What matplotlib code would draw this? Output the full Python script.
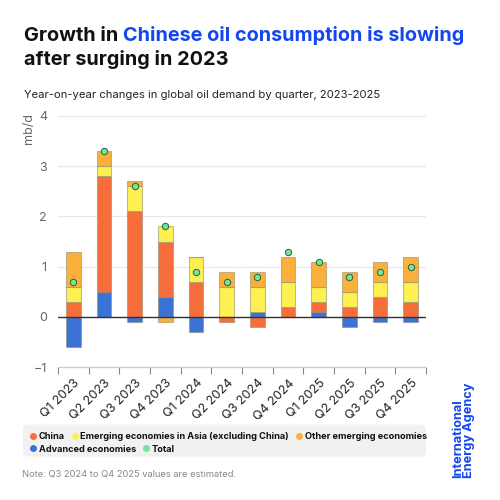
import numpy as np
import matplotlib
matplotlib.use('Agg')
import matplotlib.pyplot as plt
from matplotlib.patches import FancyBboxPatch

quarters = ['Q1 2023', 'Q2 2023', 'Q3 2023', 'Q4 2023', 'Q1 2024', 'Q2 2024',
            'Q3 2024', 'Q4 2024', 'Q1 2025', 'Q2 2025', 'Q3 2025', 'Q4 2025']
advanced = [-0.6, 0.5, -0.1, 0.4, -0.3, 0.0, 0.1, 0.0, 0.1, -0.2, -0.1, -0.1]
china = [0.3, 2.3, 2.1, 1.1, 0.7, -0.1, -0.2, 0.2, 0.2, 0.2, 0.4, 0.3]
asia = [0.3, 0.2, 0.5, 0.3, 0.5, 0.6, 0.5, 0.5, 0.3, 0.3, 0.3, 0.4]
other = [0.7, 0.3, 0.1, -0.1, 0.0, 0.3, 0.3, 0.5, 0.5, 0.4, 0.4, 0.5]
total = [0.7, 3.3, 2.6, 1.8, 0.9, 0.7, 0.8, 1.3, 1.1, 0.8, 0.9, 1.0]

series = [('Advanced economies', advanced, '#3a72d6'),
          ('China', china, '#f76d3c'),
          ('Emerging economies in Asia (excluding China)', asia, '#fdf050'),
          ('Other emerging economies', other, '#fbb03b')]
total_color = '#6fe79c'
blue_txt = '#1446f0'
FONT = 'Inter'

plt.rcParams['font.family'] = [FONT, 'DejaVu Sans']

fig = plt.figure(figsize=(5, 5), dpi=100)
fig.patch.set_facecolor('white')
ax = fig.add_axes([0.116, 0.266, 0.736, 0.502])

x = np.arange(len(quarters))
pos_base = np.zeros(len(x))
neg_base = np.zeros(len(x))
for name, vals, col in series:
    v = np.array(vals, dtype=float)
    bottom = np.where(v >= 0, pos_base, neg_base)
    ax.bar(x, v, 0.48, bottom=bottom, color=col, edgecolor=(0.55, 0.55, 0.45, 0.55),
           linewidth=0.8, zorder=3)
    pos_base += np.where(v > 0, v, 0)
    neg_base += np.where(v < 0, v, 0)

ax.plot(x, total, 'o', color=total_color, markeredgecolor='#2f5e40',
        markeredgewidth=0.7, markersize=4.6, zorder=5)

ax.axhline(0, color='#333333', lw=1, zorder=4)
ax.set_ylim(-1, 4)
ax.set_xlim(-0.5, len(x) - 0.5)
ax.set_yticks([-1, 0, 1, 2, 3, 4])
ax.grid(axis='y', color='#e8e8ea', lw=0.9, zorder=0)
for s in ['top', 'right', 'left']:
    ax.spines[s].set_visible(False)
ax.spines['bottom'].set_color('#c9cde8')
ax.spines['bottom'].set_linewidth(0.9)
ax.tick_params(axis='y', length=0, colors='#666666', labelsize=9, pad=8)
ax.set_xticks(x)
ax.set_xticklabels(quarters, rotation=45, ha='right', rotation_mode='anchor',
                   fontsize=9, color='#222222')
ax.set_xticks(np.arange(-0.5, len(x), 1), minor=True)
ax.tick_params(axis='x', which='major', length=0, pad=7)
ax.tick_params(axis='x', which='minor', length=5, color='#888888', width=0.8)
ax.set_ylabel('mb/d', color='#666666', fontsize=9)
ax.yaxis.set_label_coords(-0.063, 0.95)

# title with blue highlight
fig.canvas.draw()
r = fig.canvas.get_renderer()
t1 = fig.text(0.048, 0.918, 'Growth in ', fontsize=14.3, fontweight='bold', color='#111111', va='baseline')
bb = t1.get_window_extent(r)
fig.text(bb.x1 / 500, 0.918, 'Chinese oil consumption is slowing', fontsize=14.3,
         fontweight='bold', color=blue_txt, va='baseline')
fig.text(0.048, 0.87, 'after surging in 2023', fontsize=14.3, fontweight='bold',
         color='#111111', va='baseline')
fig.text(0.048, 0.803, 'Year-on-year changes in global oil demand by quarter, 2023-2025',
         fontsize=8.1, color='#222222', va='baseline')

# legend box
fig.patches.append(FancyBboxPatch((0.046, 0.087), 0.806, 0.064,
                                  boxstyle='round,pad=0,rounding_size=0.01',
                                  transform=fig.transFigure, facecolor='#f1f1f1',
                                  edgecolor='none', zorder=0))
legend_rows = [[('China', '#f76d3c'),
                ('Emerging economies in Asia (excluding China)', '#fdf050'),
                ('Other emerging economies', '#fbb03b')],
               [('Advanced economies', '#3a72d6'), ('Total', total_color)]]
row_y = [0.129, 0.104]
for row, yy in zip(legend_rows, row_y):
    xx = 0.066
    for label, col in row:
        fig.lines.append(plt.Line2D([xx], [yy], marker='o', color=col, markersize=5,
                                    markeredgecolor='none', transform=fig.transFigure))
        t = fig.text(xx + 0.012, yy, label, fontsize=6.6, fontweight='bold',
                     color='#111111', va='center_baseline')
        tb = t.get_window_extent(r)
        xx = tb.x1 / 500 + 0.019

fig.text(0.044, 0.052, 'Note: Q3 2024 to Q4 2025 values are estimated.',
         fontsize=6.7, color='#888888', va='center')

fig.text(0.927, 0.044, 'International\nEnergy Agency', rotation=90, fontsize=9.2,
         fontweight='bold', color=blue_txt, ha='center', va='bottom',
         linespacing=0.95, multialignment='left')

fig.savefig('out.png', dpi=100, facecolor='white')
